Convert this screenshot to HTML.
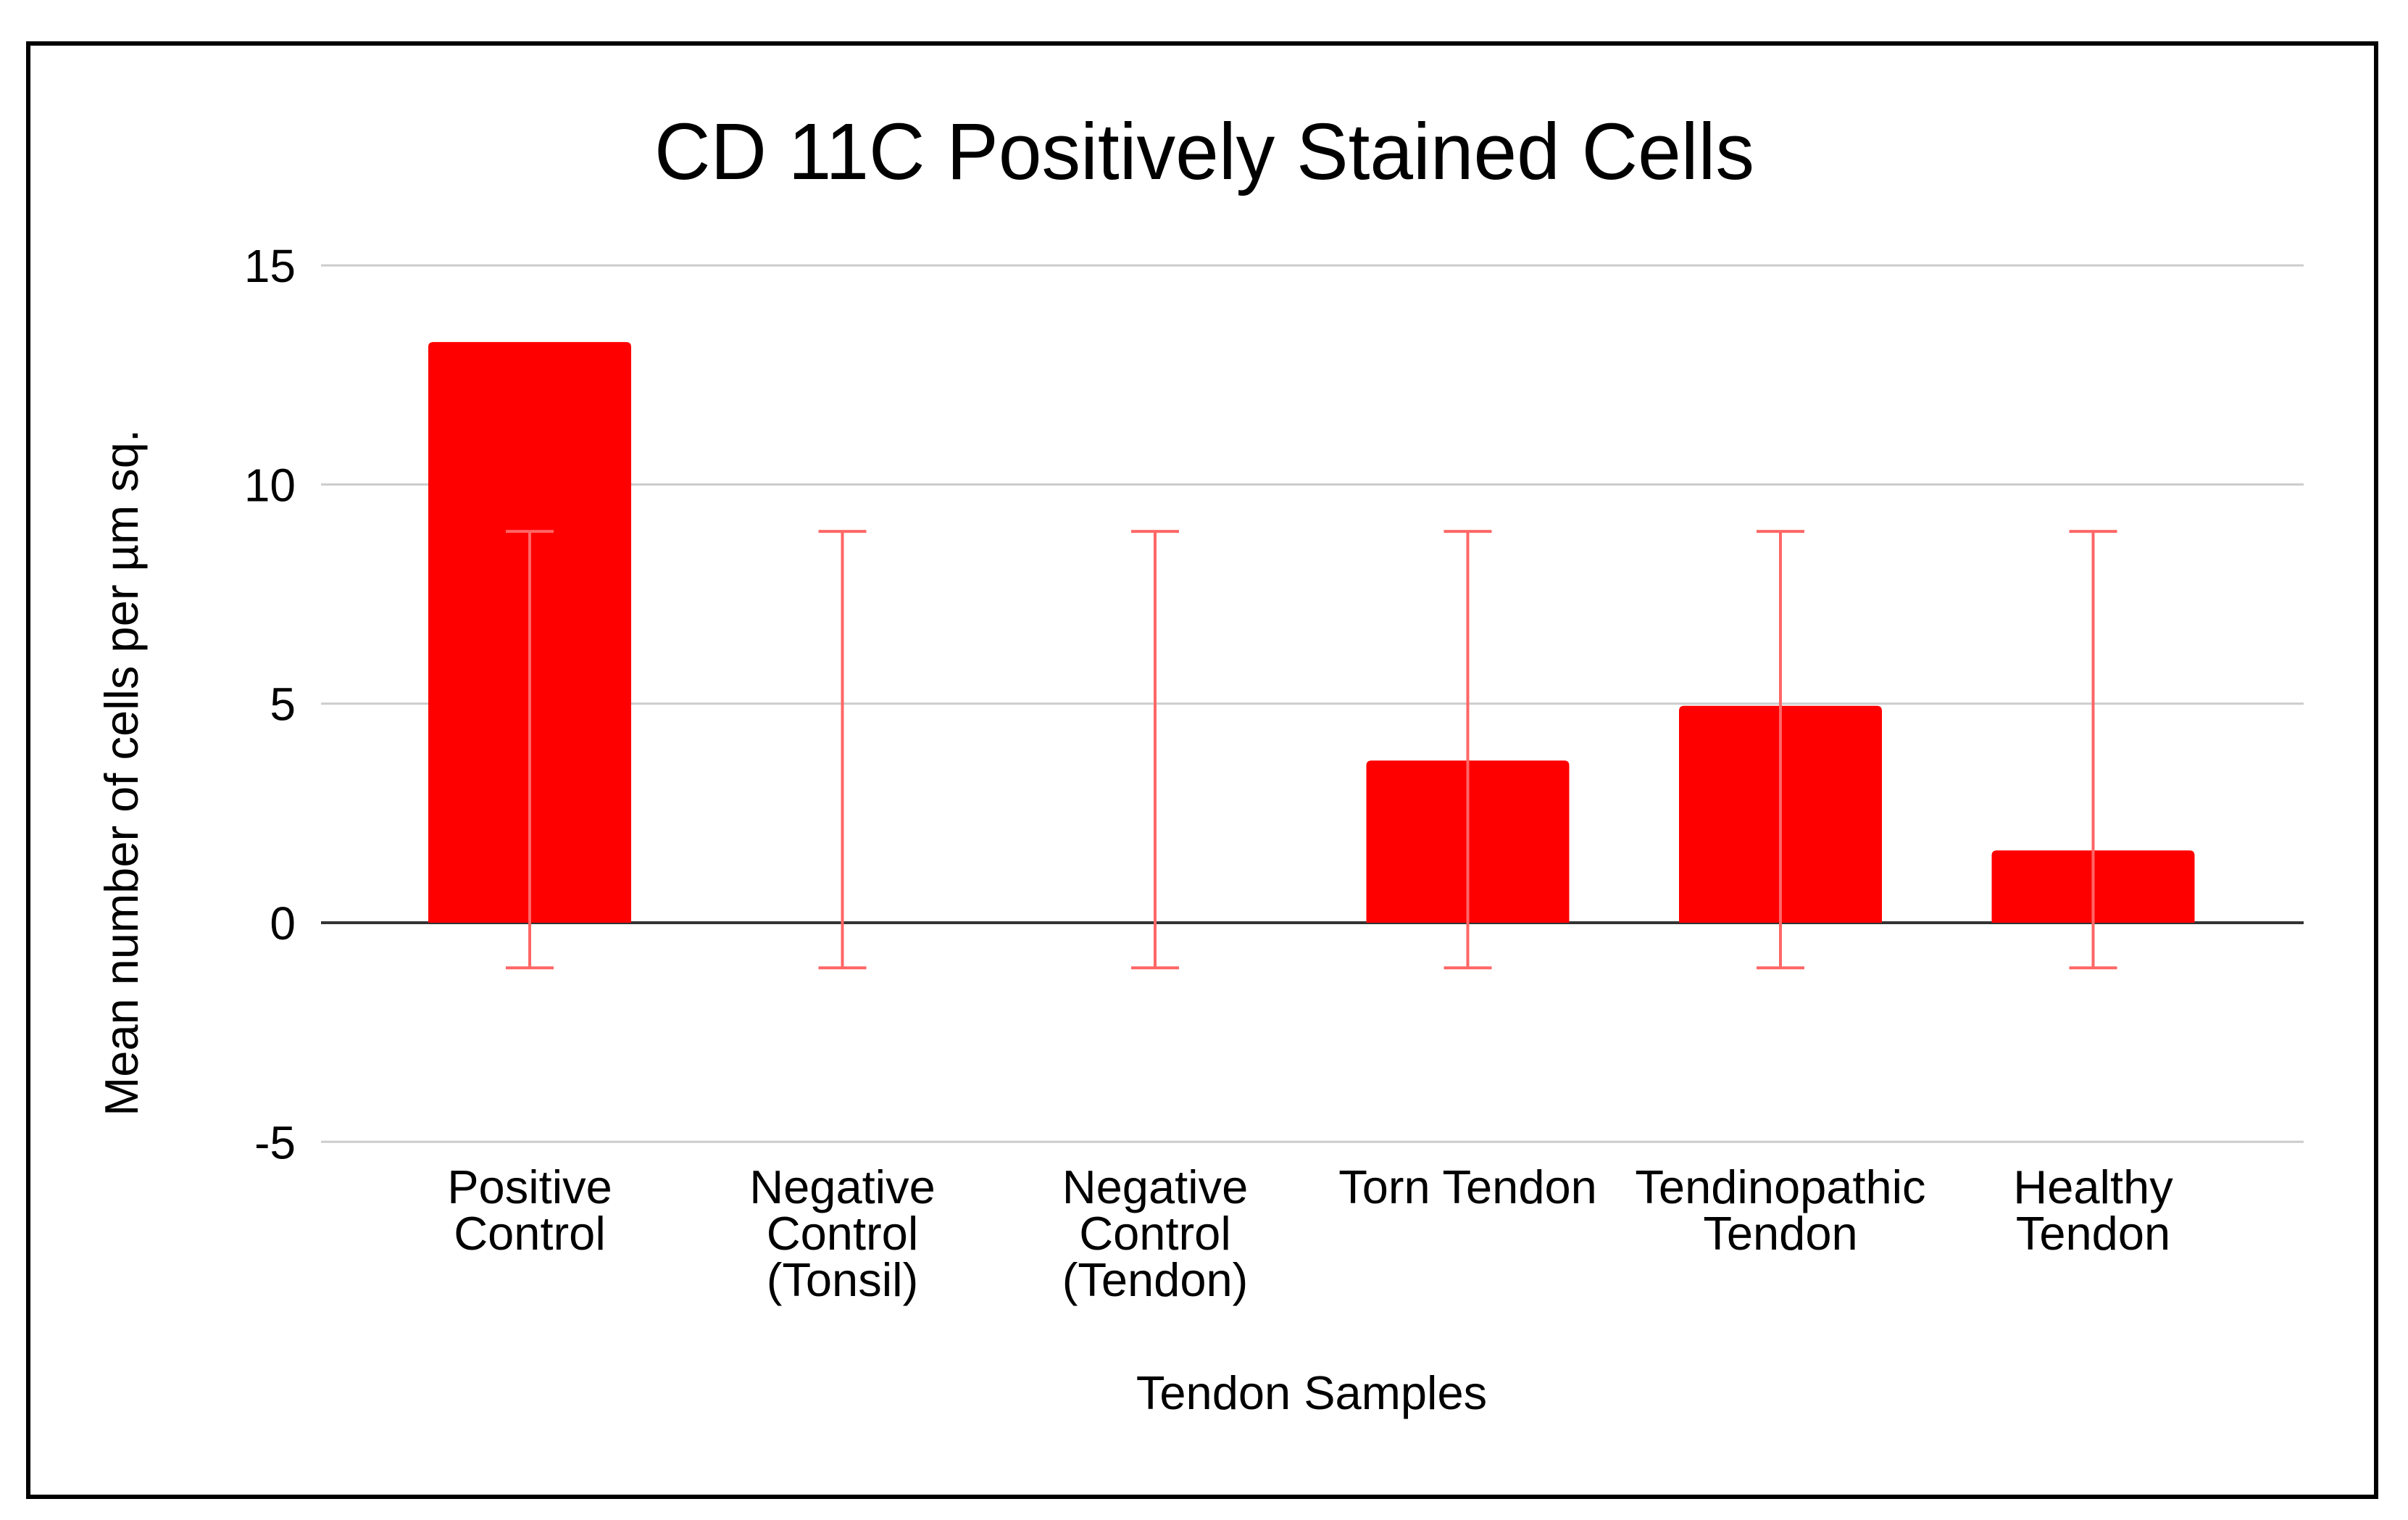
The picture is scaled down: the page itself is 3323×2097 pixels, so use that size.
<!DOCTYPE html>
<html><head><meta charset="utf-8"><style>
html,body{margin:0;padding:0;background:#fff;}
svg{display:block;font-family:"Liberation Sans",Arial,sans-serif;}
</style></head><body>
<svg id="chart" width="3323" height="2097" viewBox="0 0 3323 2097">
<rect x="0" y="0" width="3323" height="2097" fill="#fff"/>
<rect x="39" y="60" width="3240" height="2005" fill="none" stroke="#000" stroke-width="6"/>
<text x="1662" y="247" font-size="110" text-anchor="middle" textLength="1518" lengthAdjust="spacingAndGlyphs" fill="#000">CD 11C Positively Stained Cells</text>
<g id="grid"></g>
<g id="bars"></g>
<g id="errs"></g>
<g id="xlabels"></g>
<text x="1810" y="1944" font-size="65" text-anchor="middle" fill="#000">Tendon Samples</text>
<text transform="translate(190,1066) rotate(-90)" font-size="65" text-anchor="middle" fill="#000">Mean number of cells per µm sq.</text>
</svg>
<script>
const categories = [["Positive","Control"],["Negative","Control","(Tonsil)"],["Negative","Control","(Tendon)"],["Torn Tendon"],["Tendinopathic","Tendon"],["Healthy","Tendon"]];
const values = [13.25, 0, 0, 3.7, 4.95, 1.65];
const errHigh = [8.93, 8.93, 8.93, 8.93, 8.93, 8.93];
const errLow = [-1.03, -1.03, -1.03, -1.03, -1.03, -1.03];
const yTicks = [-5, 0, 5, 10, 15];
const yTickLabels = ["-5", "0", "5", "10", "15"];

const NS = "http://www.w3.org/2000/svg";
const plotL = 443, plotR = 3179;
function y(v){ return 1273 - v * 60.46; }
function xc(i){ return 731 + i * 431.5; }
const barW = 280;
function mk(tag, attrs, parent){
  const e = document.createElementNS(NS, tag);
  for (const k in attrs) e.setAttribute(k, attrs[k]);
  document.getElementById(parent).appendChild(e);
  return e;
}
yTicks.forEach((t, i) => {
  const l = mk('line', {x1: plotL, x2: plotR, y1: y(t), y2: y(t), stroke: t === 0 ? '#333' : '#ccc', 'stroke-width': t === 0 ? 4 : 3}, 'grid');
  
  
  const tx = mk('text', {x: 408, y: y(t) + 23, 'font-size': 64, 'text-anchor': 'end', fill: '#000'}, 'grid');
  tx.textContent = yTickLabels[i];
  
  
});
values.forEach((v, i) => {
  if (v > 0) {
    const top = y(v);
    const p = mk('path', {d: `M${xc(i)-barW/2},${y(0)} V${top+7} Q${xc(i)-barW/2},${top} ${xc(i)-barW/2+7},${top} H${xc(i)+barW/2-7} Q${xc(i)+barW/2},${top} ${xc(i)+barW/2},${top+7} V${y(0)} Z`, fill: '#ff0000'}, 'bars');
    
    
  }
  const g = mk('g', {stroke: '#ff6666', 'stroke-width': 4}, 'errs');
  
  
  [[xc(i), y(errHigh[i]), xc(i), y(errLow[i])], [xc(i)-33, y(errHigh[i]), xc(i)+33, y(errHigh[i])], [xc(i)-33, y(errLow[i]), xc(i)+33, y(errLow[i])]].forEach(c => {
    const l = document.createElementNS(NS, 'line');
    l.setAttribute('x1', c[0]); l.setAttribute('y1', c[1]); l.setAttribute('x2', c[2]); l.setAttribute('y2', c[3]);
    g.appendChild(l);
  });
  const t = mk('text', {x: xc(i), y: 1660, 'font-size': 65, 'text-anchor': 'middle', fill: '#000'}, 'xlabels');
  
  
  categories[i].forEach((line, j) => {
    const s = document.createElementNS(NS, 'tspan');
    s.setAttribute('x', xc(i));
    s.setAttribute('y', 1660 + j * 64);
    s.textContent = line;
    t.appendChild(s);
  });
});
</script>
</body></html>
